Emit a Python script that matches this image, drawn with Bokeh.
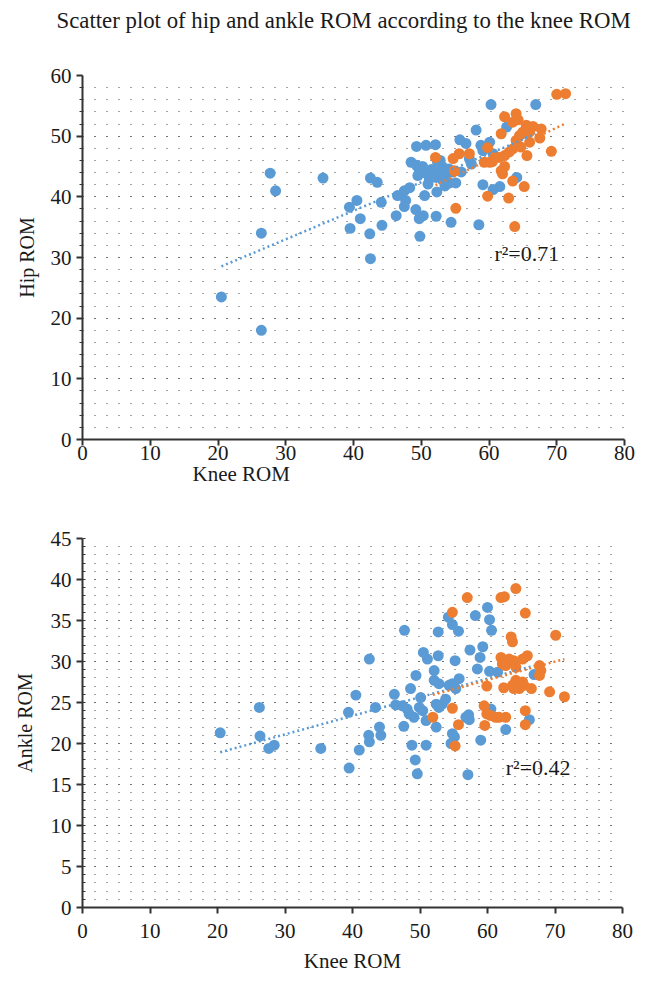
from bokeh.plotting import figure
from bokeh.models import Title, Label, Range1d, SingleIntervalTicker
from bokeh.layouts import column
from bokeh.embed import file_html
from bokeh.resources import INLINE

BLUE = "#5B9BD5"
ORANGE = "#ED7D31"
FONT = "Liberation Serif"
AXIS_COLOR = "#333333"

# ---------------- data: hip ROM vs knee ROM ----------------
hip_blue_knee = [20.5, 26.4, 26.4, 27.7, 28.5, 35.5, 39.4, 39.5, 40.5, 41.0, 42.4, 42.5, 43.5, 42.5,
                 44.1, 44.2, 46.3, 46.5, 47.5, 47.7, 47.5, 48.3, 48.5, 49.3, 49.2, 49.7, 50.3, 49.8,
                 49.3, 50.7, 52.1, 49.7, 50.7, 51.2, 49.5, 51.0, 50.5, 52.3, 52.4, 53.2, 52.7, 53.7,
                 52.2, 53.2, 54.1, 54.7, 54.2, 55.1, 52.2, 54.4, 55.7, 56.6, 55.9, 57.1, 57.4, 58.1,
                 58.5, 58.8, 60.1, 59.1, 60.6, 60.3, 59.1, 60.6, 61.6, 62.6, 64.1, 65.3, 66.9, 51.5,
                 52.8, 53.5, 50.2]
hip_blue = [23.5, 34.0, 18.0, 43.9, 41.0, 43.1, 38.3, 34.8, 39.4, 36.4, 33.9, 43.1, 42.4, 29.8,
            39.1, 35.3, 36.9, 40.2, 41.0, 39.4, 38.4, 41.5, 45.7, 45.2, 37.9, 36.4, 36.9, 33.5,
            48.3, 48.5, 48.6, 44.1, 43.9, 43.0, 43.5, 42.1, 40.2, 40.8, 45.7, 44.9, 44.1, 43.5,
            43.2, 42.7, 44.6, 44.1, 42.3, 42.3, 36.8, 35.8, 49.4, 48.8, 44.1, 46.3, 45.4, 51.0,
            35.4, 48.5, 49.0, 47.6, 47.1, 55.2, 42.0, 41.2, 41.7, 51.5, 43.2, 50.5, 55.2, 44.5,
            46.0, 41.8, 45.0]
hip_orange_knee = [70.0, 71.3, 62.3, 64.0, 63.5, 64.3, 65.5, 66.5, 67.7, 66.0, 65.0, 61.8, 64.5, 67.5,
                   66.0, 64.0, 63.5, 64.7, 63.0, 69.2, 65.6, 59.8, 60.8, 61.5, 62.3, 60.1, 59.3, 60.5,
                   57.1, 55.6, 54.7, 52.1, 54.9, 62.3, 62.0, 61.8, 63.5, 65.2, 59.8, 62.9, 55.1, 63.8]
hip_orange = [56.9, 57.0, 53.2, 53.7, 52.3, 52.7, 51.8, 51.6, 51.2, 50.7, 50.7, 50.4, 50.1, 49.7,
              49.0, 49.3, 47.9, 48.2, 47.4, 47.5, 46.8, 48.1, 46.5, 46.5, 46.8, 45.7, 45.7, 45.8,
              47.1, 47.1, 46.3, 46.5, 44.3, 45.0, 43.8, 44.3, 42.6, 41.7, 40.1, 39.8, 38.1, 35.1]
# trend lines (slope, intercept) as shown, and r^2 annotation
hip_blue_trend = (0.47, 18.9)
hip_orange_trend = (0.53, 14.3)
hip_r2 = "r\u00b2=0.71"

# ---------------- data: ankle ROM vs knee ROM ----------------
ankle_blue_knee = [20.4, 26.2, 26.3, 27.6, 28.4, 35.3, 39.4, 40.5, 39.5, 41.0, 42.4, 42.5, 42.5, 43.4,
                   44.0, 44.2, 46.2, 46.4, 47.6, 47.7, 48.6, 48.8, 47.4, 48.1, 48.4, 49.1, 49.9, 50.4,
                   50.1, 49.4, 49.3, 49.6, 50.9, 50.9, 50.5, 51.1, 52.1, 52.1, 52.8, 52.4, 52.4, 52.8,
                   53.3, 53.8, 52.7, 52.7, 54.2, 54.8, 55.7, 55.2, 54.3, 54.8, 55.8, 55.3, 54.8, 55.1,
                   54.6, 57.1, 57.2, 57.3, 56.8, 57.4, 58.2, 58.9, 58.5, 59.0, 59.3, 60.0, 60.3, 60.6,
                   60.3, 61.5, 60.5, 62.7, 66.2, 66.9, 64.0]
ankle_blue = [21.3, 24.4, 20.9, 19.4, 19.8, 19.4, 23.8, 25.9, 17.0, 19.2, 21.0, 20.2, 30.3, 24.4,
              22.0, 21.0, 26.0, 24.7, 22.1, 33.8, 26.7, 19.8, 24.6, 24.2, 23.6, 23.2, 24.4, 24.0,
              25.6, 28.3, 18.0, 16.3, 22.8, 19.8, 31.1, 30.3, 28.9, 27.7, 27.3, 22.0, 24.8, 24.4,
              24.8, 25.4, 33.6, 30.7, 35.4, 34.5, 33.7, 30.1, 27.1, 27.3, 27.9, 26.7, 21.2, 20.8,
              20.0, 16.2, 23.5, 22.9, 23.2, 31.4, 35.6, 30.5, 29.1, 20.4, 31.8, 36.6, 35.1, 33.8,
              28.8, 28.7, 24.2, 21.7, 22.9, 28.4, 29.9]
ankle_orange_knee = [64.2, 57.0, 62.0, 62.5, 65.6, 54.8, 70.1, 63.5, 63.7, 62.0, 62.2, 63.2, 63.9, 65.2,
                     65.9, 62.7, 64.2, 67.7, 67.9, 67.7, 64.2, 64.7, 63.7, 65.2, 63.9, 64.7, 65.4, 62.4,
                     59.9, 66.5, 69.2, 71.4, 59.5, 59.9, 60.5, 61.2, 61.7, 62.7, 65.6, 65.6, 59.6, 51.9,
                     55.7, 55.2, 54.8]
ankle_orange = [38.9, 37.8, 37.8, 37.9, 35.9, 36.0, 33.2, 33.0, 32.4, 30.5, 29.7, 30.3, 30.1, 30.3,
                30.7, 29.5, 29.3, 29.5, 28.9, 28.3, 27.7, 27.3, 27.1, 27.5, 26.7, 26.7, 27.1, 26.8,
                27.0, 26.7, 26.3, 25.7, 24.6, 23.6, 23.4, 23.2, 23.2, 23.2, 24.0, 22.3, 22.2, 23.2,
                22.3, 19.7, 24.3]
ankle_blue_trend = (0.227, 14.3)
ankle_orange_trend = (0.224, 14.3)
ankle_r2 = "r\u00b2=0.42"

TITLE = "Scatter plot of hip and ankle ROM according to the knee ROM"
X_LABEL = "Knee ROM"


def base_fig(ymax, ystep, fw, fh, bl, bt, bb, br):
    p = figure(frame_width=fw, frame_height=fh, x_range=Range1d(0, 80), y_range=Range1d(0, ymax),
               output_backend="svg", toolbar_location=None, title=None,
               min_border_left=bl, min_border_top=bt, min_border_bottom=bb, min_border_right=br)
    p.outline_line_color = None
    p.background_fill_color = "white"
    p.border_fill_color = "white"
    p.xaxis.ticker = SingleIntervalTicker(interval=10, num_minor_ticks=0)
    p.yaxis.ticker = SingleIntervalTicker(interval=ystep, num_minor_ticks=5)
    p.xgrid.visible = False
    p.ygrid.grid_line_color = "#444444"
    p.ygrid.grid_line_width = 1
    p.ygrid.grid_line_dash = "1 11"
    p.ygrid.minor_grid_line_color = "#444444"
    p.ygrid.minor_grid_line_width = 1
    p.ygrid.minor_grid_line_dash = "1 11"
    for ax in (p.xaxis[0], p.yaxis[0]):
        ax.axis_line_color = AXIS_COLOR
        ax.axis_line_width = 2
        ax.major_tick_line_color = AXIS_COLOR
        ax.major_tick_line_width = 2
        ax.minor_tick_line_color = AXIS_COLOR
        ax.major_tick_in = 0
        ax.major_tick_out = 6
        ax.major_label_text_font = FONT
        ax.major_label_text_font_size = "21px"
        ax.major_label_text_color = "#1a1a1a"
        ax.axis_label_text_font = FONT
        ax.axis_label_text_font_size = "20px"
        ax.axis_label_text_font_style = "normal"
        ax.axis_label_text_color = "#1a1a1a"
    p.xaxis.minor_tick_in = 0
    p.xaxis.minor_tick_out = 0
    return p


def add_series(p, xb, yb, xo, yo, tb, to):
    p.scatter(xb, yb, size=11, fill_color=BLUE, line_color=None)
    p.scatter(xo, yo, size=11, fill_color=ORANGE, line_color=None)
    xb_ends = [min(xb), max(xb)]
    xo_ends = [min(xo), max(xo)]
    p.line(xb_ends, [tb[0] * v + tb[1] for v in xb_ends], line_color=BLUE, line_width=2.5,
           line_dash="2 3")
    p.line(xo_ends, [to[0] * v + to[1] for v in xo_ends], line_color=ORANGE, line_width=2.5,
           line_dash="2 3")


# ---------------- top chart ----------------
p1 = base_fig(60, 10, 542, 364, 75, 74, 52, 21)
# spacer between the frame and the main title (closest to frame first)
p1.add_layout(Title(text=" ", text_font_size="2px", standoff=34), "above")
p1.add_layout(Title(text=TITLE, align="left", offset=-26, text_font=FONT, text_font_size="22.8px",
                    text_font_style="normal", text_color="#1a1a1a", standoff=10), "above")
p1.yaxis.axis_label = "Hip ROM"
p1.yaxis.axis_label_standoff = 10
p1.yaxis.minor_tick_in = 0
p1.yaxis.minor_tick_out = 3
p1.xaxis.major_label_standoff = 0
p1.add_layout(Title(text=X_LABEL, align="left", offset=110, text_font=FONT, text_font_size="21px",
                    text_font_style="normal", text_color="#1a1a1a", standoff=-6), "below")
add_series(p1, hip_blue_knee, hip_blue, hip_orange_knee, hip_orange, hip_blue_trend, hip_orange_trend)
p1.add_layout(Label(x=60.8, y=30.7, text=hip_r2, text_baseline="middle", text_font=FONT,
                    text_font_size="22px", text_color="#1a1a1a"))

# ---------------- bottom chart ----------------
p2 = base_fig(45, 5, 540, 369, 82, 47, 60, 16)
p2.yaxis.axis_label = "Ankle ROM"
p2.yaxis.axis_label_standoff = 12
p2.yaxis.minor_tick_in = 3
p2.yaxis.minor_tick_out = 0
p2.xaxis.axis_label = X_LABEL
p2.xaxis.axis_label_text_font_size = "21px"
p2.xaxis.major_label_standoff = 10
p2.xaxis.axis_label_standoff = 8
add_series(p2, ankle_blue_knee, ankle_blue, ankle_orange_knee, ankle_orange, ankle_blue_trend,
           ankle_orange_trend)
p2.add_layout(Label(x=62.7, y=17.1, text=ankle_r2, text_baseline="middle", text_font=FONT,
                    text_font_size="22px", text_color="#1a1a1a"))

layout = column(p1, p2, spacing=0)
open("out.html", "w").write(file_html(layout, INLINE))
